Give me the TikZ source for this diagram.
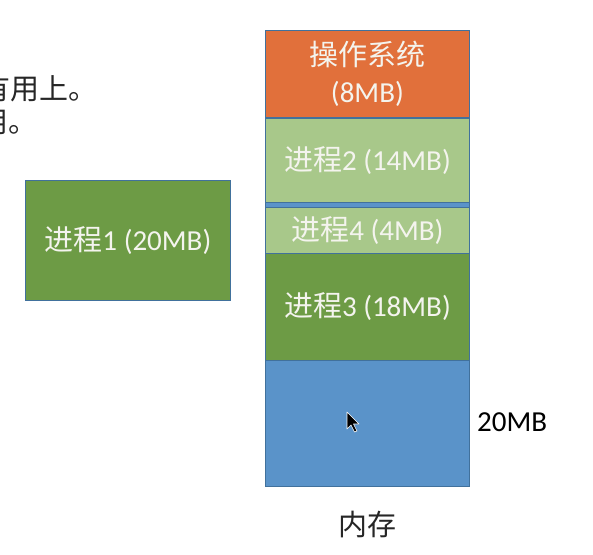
\documentclass[tikz,border=0pt]{standalone}
\usepackage{fontspec}
\setmainfont{Carlito}
\newfontfamily\cjk{Noto Sans CJK SC}
\definecolor{osc}{HTML}{E1703B}
\definecolor{lgreen}{HTML}{A8C88A}
\definecolor{dgreen}{HTML}{6D9B45}
\definecolor{freec}{HTML}{5A93C9}
\definecolor{bordc}{HTML}{41719C}
\definecolor{boxtext}{HTML}{F4F4EE}
\definecolor{txtc}{HTML}{262626}
\newcommand{\lab}{\fontsize{29}{37}\selectfont}
\tikzset{
  seg/.style={draw=bordc, line width=0.8pt, inner sep=0pt, minimum width=204pt,
    anchor=north west, text=boxtext, font=\lab, align=center},
  plain/.style={inner sep=0pt, font=\lab, text=txtc}
}
\begin{document}
\begin{tikzpicture}[x=1pt,y=-1pt]
\useasboundingbox (0,0) rectangle (593,554);
\fill[white] (0,0) rectangle (593,554);
\begin{scope}
\clip (0,0) rectangle (593,554);
\node[plain, anchor=east] (t1) at (98,89) {\cjk 没有用上。};
\node[plain, anchor=east] (t2) at (38,122) {\cjk 难以利用。};
\end{scope}
% memory background
\node[draw=bordc, line width=0.8pt, fill=freec, minimum width=204pt, minimum height=456pt,
  inner sep=0pt, anchor=north west] (mem) at (265,30) {};
\node[seg, fill=osc, minimum height=87pt] (os) at (265,30) {{\cjk 操作系统}\\(8MB)};
\node[seg, fill=lgreen, minimum height=84pt] (p2) at (265,118) {{\cjk 进程}2 (14MB)};
\node[seg, fill=lgreen, minimum height=46pt] (p4) at (265,207) {{\cjk 进程}4 (4MB)};
\node[seg, fill=dgreen, minimum height=107pt] (p3) at (265,253) {{\cjk 进程}3 (18MB)};
\node[seg, fill=dgreen, minimum width=205pt, minimum height=120pt] (p1) at (25,180) {{\cjk 进程}1 (20MB)};
\node[plain, anchor=west, text=black] (free) at (477,422) {20MB};
\node[plain] (memlab) at (367,524) {\cjk 内存};
% mouse pointer
\filldraw[fill=black, draw=white, line width=0.6pt, line join=round]
  (347,412) -- (347,429) -- (351,425) -- (354.5,432) -- (357,431) -- (353.5,424) -- (359,424) -- cycle;
\end{tikzpicture}
\end{document}
